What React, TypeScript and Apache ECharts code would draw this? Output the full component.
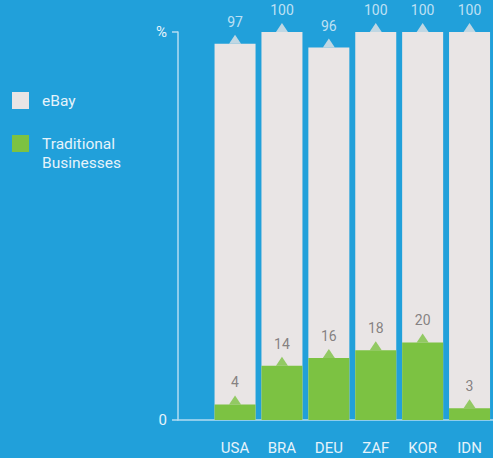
import React, { useEffect, useRef } from "react";
import * as echarts from "echarts";

const countries = ["USA", "BRA", "DEU", "ZAF", "KOR", "IDN"];
const ebayShare = [97, 100, 96, 100, 100, 100];
const traditionalShare = [4, 14, 16, 18, 20, 3];
const yTickLabels: Record<number, string> = { 0: "0", 100: "%" };

const BG = "#21a0da";
const GRAY = "#e9e5e5";
const GREEN = "#7cc242";
const AXIS = "#b3dcf2";
const LIGHT_TEXT = "#e6f3fa";
const DARK_TEXT = "#6b6767";
const FONT = "Roboto, 'Liberation Sans', sans-serif";

export default function App() {
  const ref = useRef<HTMLDivElement>(null);
  useEffect(() => {
    document.body.style.margin = "0";
    const chart = echarts.init(ref.current!, null, { renderer: "svg" });
    const triangle = (data: number[], color: string, labelColor: string, name: string) => ({
      type: "scatter",
      name,
      xAxisIndex: 1,
      yAxisIndex: 1,
      data,
      symbol: "triangle",
      symbolSize: [12, 9],
      symbolOffset: [0, -4.5],
      itemStyle: { color },
      z: 4,
      silent: true,
      label: {
        show: true,
        position: "top",
        distance: 6,
        color: labelColor,
        fontSize: 14,
        fontFamily: FONT,
      },
    });
    chart.setOption({
      animation: false,
      backgroundColor: BG,
      textStyle: { fontFamily: FONT },
      legend: [
        {
          data: [{ name: "eBay", icon: "rect" }],
          left: 12,
          top: 92,
          padding: 0,
          itemWidth: 17,
          itemHeight: 17,
          selectedMode: false,
          textStyle: { color: LIGHT_TEXT, fontSize: 15.5, fontFamily: FONT, padding: [0, 0, 0, 8] },
        },
        {
          data: [{ name: "Traditional Businesses", icon: "rect" }],
          left: 12,
          top: 115,
          padding: 0,
          itemWidth: 17,
          itemHeight: 17,
          selectedMode: false,
          formatter: () => "\nTraditional\nBusinesses",
          textStyle: {
            color: LIGHT_TEXT,
            fontSize: 15.5,
            lineHeight: 19,
            fontFamily: FONT,
            padding: [0, 0, 0, 8],
          },
        },
      ],
      grid: [
        { left: 178, right: 0, top: 32, bottom: 38 },
        { left: 211.6, width: 286.8, top: 32, bottom: 38 },
      ],
      xAxis: [
        {
          gridIndex: 0,
          type: "value",
          min: 0,
          max: 1,
          axisLine: { show: true, lineStyle: { color: AXIS, width: 1.5 } },
          axisTick: { show: false },
          axisLabel: { show: false },
          splitLine: { show: false },
        },
        {
          gridIndex: 1,
          type: "category",
          data: countries,
          axisLine: { show: false },
          axisTick: { show: false },
          axisLabel: { color: LIGHT_TEXT, fontSize: 15, margin: 20, fontFamily: FONT },
        },
      ],
      yAxis: [
        {
          gridIndex: 0,
          type: "value",
          min: 0,
          max: 100,
          interval: 100,
          axisLine: { show: true, lineStyle: { color: AXIS, width: 1.5 } },
          axisTick: { show: true, length: 6, lineStyle: { color: AXIS, width: 1.5 } },
          axisLabel: {
            color: LIGHT_TEXT,
            fontSize: 15,
            margin: 11,
            fontFamily: FONT,
            formatter: (v: number) => yTickLabels[v] ?? "",
          },
          splitLine: { show: false },
        },
        { gridIndex: 1, type: "value", min: 0, max: 100, show: false },
      ],
      series: [
        {
          type: "bar",
          name: "eBay",
          xAxisIndex: 1,
          yAxisIndex: 1,
          data: ebayShare,
          barWidth: 41,
          barGap: "-100%",
          itemStyle: { color: GRAY },
          z: 2,
        },
        {
          type: "bar",
          name: "Traditional Businesses",
          xAxisIndex: 1,
          yAxisIndex: 1,
          data: traditionalShare,
          barWidth: 41,
          barGap: "-100%",
          itemStyle: { color: GREEN },
          z: 3,
        },
        triangle(ebayShare, GRAY, LIGHT_TEXT, "eBayTop"),
        triangle(traditionalShare, GREEN, DARK_TEXT, "tradTop"),
      ],
    });
    return () => chart.dispose();
  }, []);
  return <div ref={ref} style={{ position: "fixed", left: 0, top: 0, width: 493, height: 458 }} />;
}
